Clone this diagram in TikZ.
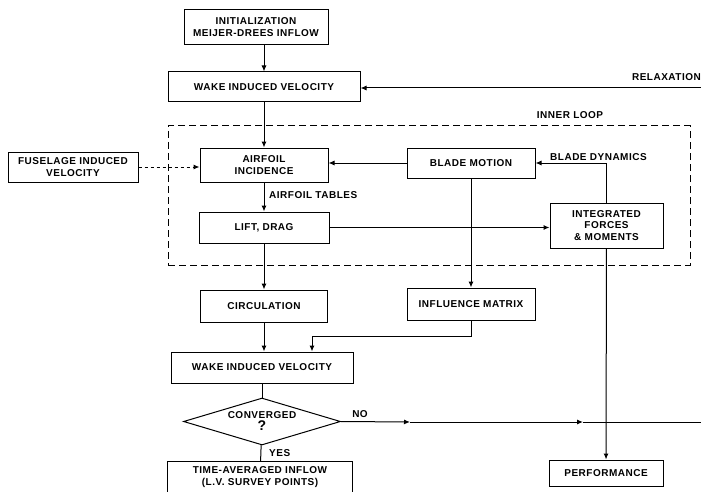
\documentclass[tikz,border=0pt]{standalone}
\usepackage{fontspec}
\setmainfont{Liberation Sans}[LetterSpace=5]
\usetikzlibrary{arrows.meta, positioning, shapes.geometric}

\begin{document}
\begin{tikzpicture}[x=1pt, y=-1pt,
    block/.style={rectangle, draw=black, line width=1pt, align=center, inner sep=1pt, font=\bfseries\fontsize{10}{11.5}\selectfont},
    tag/.style={font=\bfseries\fontsize{10}{11.5}\selectfont, inner sep=1pt},
    arrow/.style={-{Latex[length=6pt,width=5pt]}, line width=1pt},
    link/.style={line width=1pt}
]
\useasboundingbox (0,0) rectangle (701,492);

% ==== Outer loop, top ====
\node[block, minimum width=144pt, minimum height=35pt] (init) at (256,27) {INITIALIZATION\\MEIJER-DREES INFLOW};
\node[block, minimum width=192pt, minimum height=30pt] (wake1) at (264,87) {WAKE INDUCED VELOCITY};
\coordinate (relaxR) at (701,88);
\node[tag, anchor=east] (relax) at (702,77) {RELAXATION};

% ==== Inner loop ====
\node[rectangle, draw=black, dashed, dash pattern=on 7pt off 4pt, line width=1pt, minimum width=522pt, minimum height=139pt] (loop) at (429,195.5) {};
\node[tag] (looplabel) at (570,115) {INNER LOOP};

\node[block, minimum width=128pt, minimum height=34pt] (airfoil) at (264,165) {AIRFOIL\\INCIDENCE};
\node[block, minimum width=130pt, minimum height=30pt] (fuselage) at (73,167) {FUSELAGE INDUCED\\VELOCITY};
\node[block, minimum width=130pt, minimum height=31pt] (lift) at (264,227.5) {LIFT, DRAG};
\node[block, minimum width=128pt, minimum height=30pt] (blade) at (471,163) {BLADE MOTION};
\node[block, minimum width=113pt, minimum height=45pt] (forces) at (606.5,225.5) {INTEGRATED\\FORCES\\\& MOMENTS};
\node[tag, anchor=west] (tables) at (268,195) {AIRFOIL TABLES};
\node[tag, anchor=west] (dynamics) at (549,157) {BLADE DYNAMICS};

% ==== Below the inner loop ====
\node[block, minimum width=127pt, minimum height=32pt] (circ) at (264,306) {CIRCULATION};
\node[block, minimum width=128pt, minimum height=32pt] (infl) at (471,304) {INFLUENCE MATRIX};
\node[block, minimum width=182pt, minimum height=31pt] (wake2) at (262,367.5) {WAKE INDUCED VELOCITY};
\node[diamond, draw=black, line width=1pt, aspect=3.3, inner sep=0pt, minimum width=157pt, minimum height=47pt, align=center, font=\bfseries\fontsize{10}{12}\selectfont] (conv) at (262,421.5) {CONVERGED\\{\fontsize{14}{12}\selectfont ?}};
\node[block, minimum width=185pt, minimum height=31pt] (timeavg) at (260,477) {TIME-AVERAGED INFLOW\\(L.V. SURVEY POINTS)};
\node[block, minimum width=114pt, minimum height=26pt] (perf) at (606,473) {PERFORMANCE};
\node[tag] (no) at (360,414) {NO};
\node[tag, anchor=west] (yes) at (268,453) {YES};

\coordinate (bend) at (312,336);
\coordinate (noA) at (410,422);
\coordinate (noB) at (583,422);
\coordinate (noR) at (701,422);

% ==== Arrows ====
\draw[arrow] (init.south -| wake1.north) -- (wake1.north);
\draw[arrow] (relaxR) -- (relaxR -| wake1.east);
\draw[arrow] (wake1) -- (airfoil);
\draw[arrow, dashed] (fuselage.east) -- (fuselage.east -| airfoil.west);
\draw[arrow] (blade.west) -- (blade.west -| airfoil.east);
\draw[arrow] (airfoil) -- (lift);
\draw[arrow] (lift.east) -- (lift.east -| forces.west);
\draw[arrow] (forces.north) |- (blade.east);
\draw[arrow] (blade) -- (infl);
\draw[arrow] (lift) -- (circ);
\draw[arrow] (circ.south) -- (circ.south |- wake2.north);
\draw[arrow] (infl.south) |- (bend) -- (bend |- wake2.north);
\draw[link] (wake2) -- (conv);
\draw[link] (conv) -- (timeavg);
\draw[arrow] (conv.east) -- (noA);
\draw[arrow] (noA) -- (noB);
\draw[link] (noB) -- (noR);
\draw[arrow] (forces) -- (perf);

\end{tikzpicture}
\end{document}
